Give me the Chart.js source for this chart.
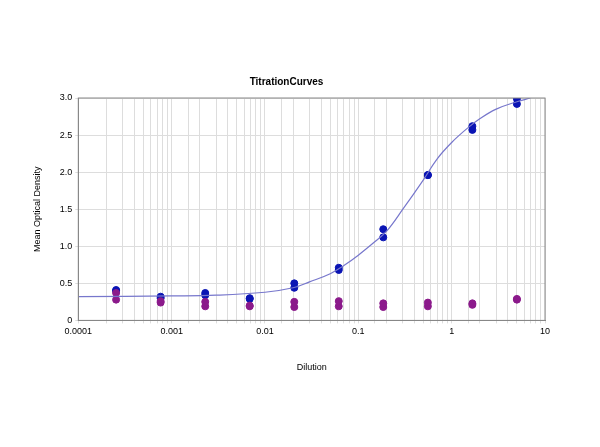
<!DOCTYPE html>
<html>
<head>
<script src="https://cdn.jsdelivr.net/npm/chart.js@4"></script>
<style>
body{margin:0;background:#fff;}
</style>
</head>
<body>
<canvas id="chart" width="600" height="447"></canvas>
<script>
// dilutions (3-fold series)
const dilutions = [5, 1.667, 0.556, 0.185, 0.0617, 0.0206, 0.00686, 0.00229, 0.000762, 0.000254];
const blueA = [2.99, 2.62, 1.96, 1.23, 0.71, 0.50, 0.30, 0.37, 0.32, 0.41];
const blueB = [2.92, 2.57, 1.96, 1.12, 0.68, 0.44, 0.29, 0.34, 0.30, 0.40];
const purpleA = [0.29, 0.23, 0.24, 0.23, 0.26, 0.25, 0.20, 0.25, 0.26, 0.37];
const purpleB = [0.28, 0.21, 0.19, 0.18, 0.19, 0.18, 0.19, 0.19, 0.24, 0.28];
// fitted curve
const curveX = [0.0001, 0.001, 0.003, 0.01, 0.02, 0.03, 0.05, 0.07, 0.1, 0.15, 0.2, 0.3, 0.5, 0.7, 1, 1.5, 2, 3, 5, 7];
const curveY = [0.32, 0.33, 0.34, 0.38, 0.44, 0.52, 0.63, 0.74, 0.88, 1.06, 1.2, 1.5, 1.9, 2.18, 2.4, 2.6, 2.72, 2.85, 2.95, 3.0];

function pts(xs, ys){
    return xs.map(function(x, i){ return {x: x, y: ys[i]}; });
}

const ctx = document.getElementById('chart').getContext('2d');
const myChart = new Chart(ctx, {
    type: 'scatter',
    data: {
        datasets: [
            {data: pts(curveX, curveY), showLine: true, tension: 0.4, pointRadius: 0, borderColor: '#7777cc', borderWidth: 1.2},
            {data: pts(dilutions, purpleA), pointRadius: 3.5, backgroundColor: '#8b1a8b', borderColor: '#8b1a8b'},
            {data: pts(dilutions, purpleB), pointRadius: 3.5, backgroundColor: '#8b1a8b', borderColor: '#8b1a8b'},
            {data: pts(dilutions, blueA), pointRadius: 3.5, backgroundColor: '#0a14b4', borderColor: '#0a14b4'},
            {data: pts(dilutions, blueB), pointRadius: 3.5, backgroundColor: '#0a14b4', borderColor: '#0a14b4'}
        ]
    },
    options: {
        responsive: false,
        animation: false,
        layout: {padding: {left: 28, right: 55, top: 76, bottom: 70}},
        plugins: {
            legend: {display: false},
            tooltip: {enabled: false},
            title: {display: true, text: 'TitrationCurves', color: '#000', font: {family: 'Arial', size: 10, weight: 'bold'}, padding: {top: 0, bottom: 10}}
        },
        scales: {
            x: {
                type: 'logarithmic', min: 0.0001, max: 10,
                border: {color: '#888'},
                grid: {color: '#ddd', tickLength: 3},
                ticks: {
                    color: '#000', font: {family: 'Arial', size: 9}, autoSkip: false, maxRotation: 0,
                    callback: function(v){ const l = Math.log10(v); return Math.abs(l - Math.round(l)) < 1e-9 ? String(v) : ''; }
                },
                title: {display: true, text: 'Dilution', color: '#000', font: {family: 'Arial', size: 9}, padding: {top: 22}}
            },
            y: {
                min: 0, max: 3,
                border: {color: '#888'},
                grid: {color: '#ddd', tickLength: 3},
                ticks: {stepSize: 0.5, color: '#000', font: {family: 'Arial', size: 9}},
                title: {display: true, text: 'Mean Optical Density', color: '#000', font: {family: 'Arial', size: 9}, padding: {bottom: 14}}
            }
        }
    },
    plugins: [{
        id: 'frame',
        afterDraw: function(c){
            const a = c.chartArea, g = c.ctx;
            g.save(); g.strokeStyle = '#888'; g.lineWidth = 1;
            g.strokeRect(a.left, a.top, a.right - a.left, a.bottom - a.top);
            g.restore();
        }
    }]
});
</script>
</body>
</html>
